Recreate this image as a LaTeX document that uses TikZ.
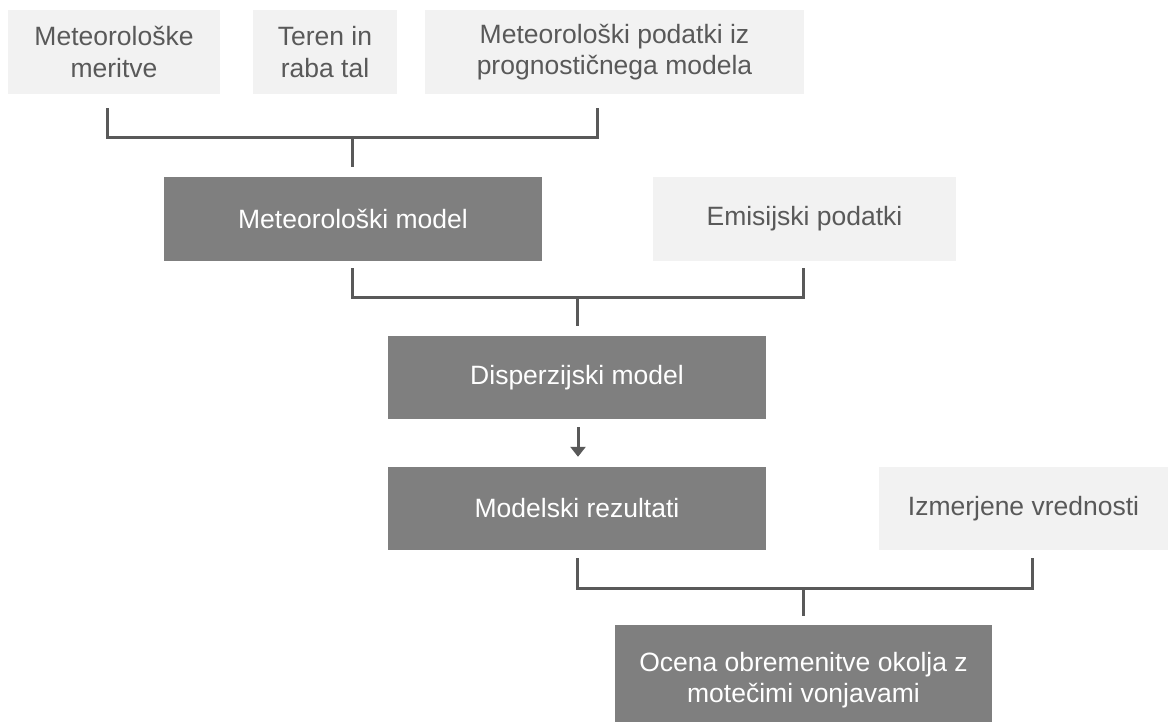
\documentclass[tikz,border=0pt]{standalone}
\usepackage{fontspec}
\setmainfont{Liberation Sans}
\usetikzlibrary{positioning, calc, arrows.meta}
\definecolor{boxLight}{HTML}{F2F2F2}
\definecolor{boxDark}{HTML}{7F7F7F}
\definecolor{inkGray}{HTML}{595959}

\begin{document}
\begin{tikzpicture}[x=1pt, y=-1pt,
    base/.style={inner sep=0pt, align=center, font=\fontsize{26.5}{31.5}\selectfont},
    inbox/.style={base, fill=boxLight, text=inkGray},
    modbox/.style={base, fill=boxDark, text=white},
    link/.style={draw=inkGray, line width=3pt},
    arr/.style={link, -{Triangle[width=15pt,length=10pt]}}
  ]
  \useasboundingbox (0,0) rectangle (1168,722);

  % input data (top row)
  \node[inbox, minimum width=212pt, minimum height=84pt] (meritve) at (114,52) {Meteorološke\\meritve};
  \node[inbox, minimum width=144pt, minimum height=84pt] (teren)   at (325,52) {Teren in\\raba tal};
  \node[inbox, minimum width=379pt, minimum height=84pt] (prog)    at (614.5,52) {Meteorološki podatki iz\\prognostičnega modela};

  % models
  \node[modbox, minimum width=378pt, minimum height=84pt] (metmodel) at (353,219) {Meteorološki model};
  \node[inbox,  minimum width=303pt, minimum height=84pt] (emisije)  at (804.5,219) {Emisijski podatki};
  \node[modbox, minimum width=378pt, minimum height=83pt] (dispmodel) at (577,377.5) {Disperzijski model};
  \node[modbox, minimum width=378pt, minimum height=83pt] (rezultati) at (577,508.5) {Modelski rezultati};
  \node[inbox,  minimum width=289pt, minimum height=83pt] (meritve2)  at (1023.5,508.5) {Izmerjene vrednosti};
  \node[modbox, minimum width=377pt, minimum height=110pt] (ocena)    at (803.5,680) {Ocena obremenitve okolja z\\motečimi vonjavami};

  % junctions of the brackets
  \coordinate (j1) at (352,137);
  \coordinate (j2) at (577,297);
  \coordinate (j3) at (803,588);

  \draw[link] ($(meritve.south)+(-7,14)$) |- ($(prog.south)+(-17.5,43)$) -- ++(0,-29);
  \draw[link] (j1) -- ($(metmodel.north)+(-1,-10)$);

  \draw[link] ($(metmodel.south)+(-1,7)$) |- ($(emisije.south)+(-1.5,36)$) -- ++(0,-29);
  \draw[link] (j2) -- ($(dispmodel.north)+(0,-10)$);

  \draw[arr] ($(dispmodel.south)+(1,8)$) -- ($(rezultati.north)+(1,-10)$);

  \draw[link] ($(rezultati.south)+(0,8)$) |- ($(meritve2.south)+(8.5,38)$) -- ++(0,-30);
  \draw[link] (j3) -- ($(ocena.north)+(-0.5,-9)$);
\end{tikzpicture}
\end{document}
